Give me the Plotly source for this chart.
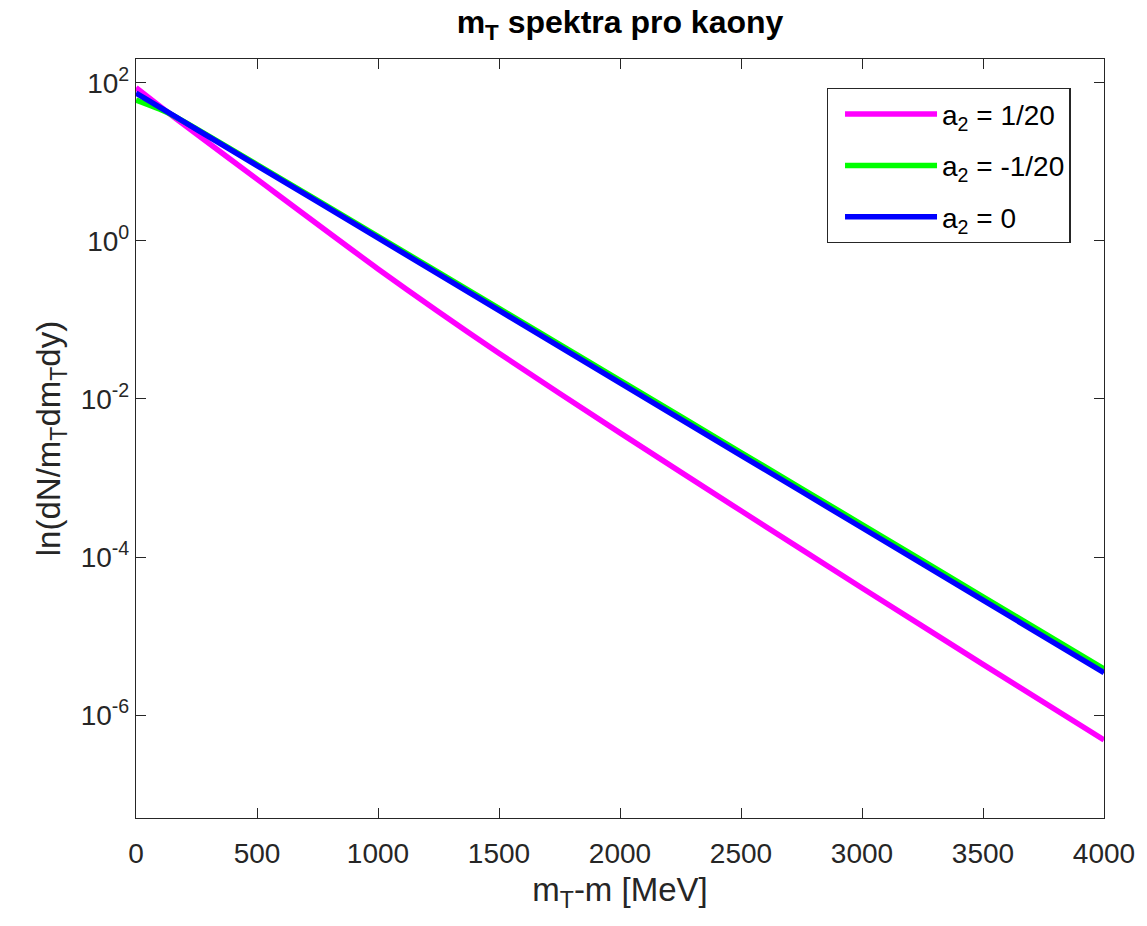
import plotly.graph_objects as go

# Data (x in MeV, y spectrum values)
x_mev = [0, 125, 250, 500, 1000, 1500, 2000, 2500, 3000, 3500, 4000]
y_a2_pos = [86.5, 43.7, 22.5, 6.04, 0.442, 0.0379, 3.72e-3, 3.85e-4, 4.06e-5, 4.4e-6, 4.86e-7]
y_a2_neg = [60.3, 42.6, 26.1, 9.23, 1.14, 0.140, 0.0172, 2.10e-3, 2.58e-4, 3.14e-5, 3.83e-6]
y_a2_zero = [74.1, 43.8, 25.8, 8.98, 1.09, 0.132, 0.0160, 1.94e-3, 2.35e-4, 2.85e-5, 3.45e-6]

series_names = ["a<sub>2</sub> = 1/20", "a<sub>2</sub> = -1/20", "a<sub>2</sub> = 0"]
series_colors = ["#FF00FF", "#00FF00", "#0000FF"]

x_ticks = [0, 500, 1000, 1500, 2000, 2500, 3000, 3500, 4000]
y_tickvals = [1e-6, 1e-4, 1e-2, 1e0, 1e2]
y_ticktext = ["10<sup>-6</sup>", "10<sup>-4</sup>", "10<sup>-2</sup>", "10<sup>0</sup>", "10<sup>2</sup>"]

FONT = "Liberation Sans, Arial, Helvetica, sans-serif"
AX = "#262626"

fig = go.Figure()
for i, (ys, name, col) in enumerate(zip([y_a2_pos, y_a2_neg, y_a2_zero], series_names, series_colors)):
    fig.add_trace(go.Scatter(x=x_mev, y=ys, mode="lines", name=name, legendgroup=f"g{i}",
                             line=dict(color=col, width=5.5, shape="spline", smoothing=0.6)))

fig.update_layout(
    width=1147, height=926,
    margin=dict(l=136, r=37, t=59, b=108),
    paper_bgcolor="white", plot_bgcolor="white",
    font=dict(family=FONT, size=28, color=AX),
    title=dict(text="<b>m<sub>T</sub> spektra pro kaony</b>", x=0.5, xref="paper",
               y=1 - 22 / 926, yref="container", yanchor="middle", xanchor="center",
               font=dict(family=FONT, size=32, color="#000000")),
    legend=dict(x=(831 - 136) / 974, y=1 - (88 - 59) / 759, xanchor="left", yanchor="top",
                bordercolor=AX, borderwidth=1.3, bgcolor="white",
                font=dict(family=FONT, size=28, color="#000000"),
                itemwidth=92, tracegroupgap=12, indentation=12),
    showlegend=True,
)
fig.update_xaxes(range=[0, 4000], tickvals=x_ticks, ticks="inside", ticklen=10, tickwidth=1,
                 tickcolor=AX, showline=True, linecolor=AX, linewidth=1.3, mirror="allticks",
                 showgrid=False, zeroline=False, ticklabelstandoff=10,
                 title=dict(text="m<sub>T</sub>-m [MeV]", standoff=10, font=dict(size=33)))
fig.update_yaxes(type="log", range=[-7.301, 2.301], tickvals=y_tickvals, ticktext=y_ticktext,
                 ticks="inside", ticklen=10, tickwidth=1, tickcolor=AX, showline=True,
                 linecolor=AX, linewidth=1.3, mirror="allticks", showgrid=False, zeroline=False,
                 title=dict(text="ln(dN/m<sub>T</sub>dm<sub>T</sub>dy)", standoff=10, font=dict(size=33)))

fig.write_html("out.html", config={"displayModeBar": False},
               post_script="document.body.style.margin='0';document.documentElement.style.margin='0';")
